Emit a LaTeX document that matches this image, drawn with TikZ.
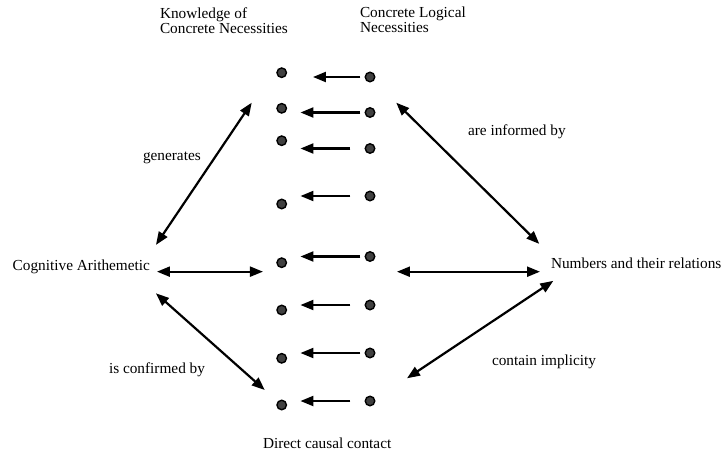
\documentclass[tikz,border=0pt]{standalone}
\usepackage{fontspec}
\setmainfont{Liberation Serif}
\usetikzlibrary{arrows.meta,calc}
\begin{document}
\begin{tikzpicture}[x=1pt,y=-1pt,
  every node/.style={inner sep=0pt,outer sep=0pt},
  lbl/.style={anchor=base west,font=\fontsize{15.3}{15}\selectfont},
  head/.style={align=left,anchor=north west,font=\fontsize{15.3}{15}\selectfont},
  dot/.style={circle,minimum size=9.5pt,fill=black!75,draw=black,line width=1.4pt},
  tip/.style={Triangle[length=13pt,width=10pt]},
  rowarr/.style={line width=2.2pt,-{Triangle[length=13pt,width=10pt]}},
  bigarr/.style={line width=2.2pt,{Triangle[length=13pt,width=10pt]}-{Triangle[length=13pt,width=10pt]}}]
\useasboundingbox (0,0) rectangle (725,455);

% column headers
\node[head] (know) at (160,7.5) {Knowledge of\\Concrete Necessities};
\node[head] (logic) at (360,6.5) {Concrete Logical\\Necessities};

% dots
\foreach \i/\yl/\yr in {1/72.7/77,2/108.3/112.5,3/140.7/148.5,4/204/196,5/262.7/256.5,6/310/305,7/358.3/353,8/405/401}{
  \node[dot] (l\i) at (281.7,\yl) {};
  \node[dot] (r\i) at (370,\yr) {};
}

% row arrows
\foreach \i/\s/\t in {1/5/26.5,2/5/14,3/15/14,4/15/14,5/5/14,6/15/14,7/5/14,8/15/14}{
  \draw[rowarr,shorten <=\s pt,shorten >=\t pt] (r\i.west) -- (l\i.east |- r\i.west);
}

% side labels
\node[lbl] (cog) at (12.7,270) {Cognitive Arithemetic};
\node[lbl] (nums) at (551,268) {Numbers and their relations};
\node[lbl] (gen) at (143,160) {generates};
\node[lbl] (inf) at (468,135) {are informed by};
\node[lbl] (conf) at (109,373) {is confirmed by};
\node[lbl] (impl) at (492,365) {contain implicity};
\node[lbl] (direct) at (263,448) {Direct causal contact};

% big double arrows
\path ([xshift=7pt,yshift=-5.3pt]cog.east) coordinate (ca);
\draw[bigarr] (ca) -- ([xshift=-14pt]l5.west |- ca);
\path ([xshift=22.2pt,yshift=-15.2pt]r5.east) coordinate (na);
\draw[bigarr] (na) -- ([xshift=-11pt]nums.west |- na);
\draw[bigarr] ([xshift=6pt,yshift=14.5pt]cog.north east) -- ([xshift=-30pt,yshift=5.6pt]l2.center);
\draw[bigarr] ([xshift=21.5pt,yshift=9.8pt]r2.east) -- ([xshift=-11.7pt,yshift=13.5pt]nums.north west);
\draw[bigarr] ([xshift=6pt,yshift=-20pt]cog.south east) -- ([xshift=-12.2pt,yshift=15pt]l8.west);
\draw[bigarr] ([xshift=2.3pt,yshift=-12.7pt]nums.south west) -- ([xshift=32.2pt,yshift=22.7pt]r8.east);
\end{tikzpicture}
\end{document}
